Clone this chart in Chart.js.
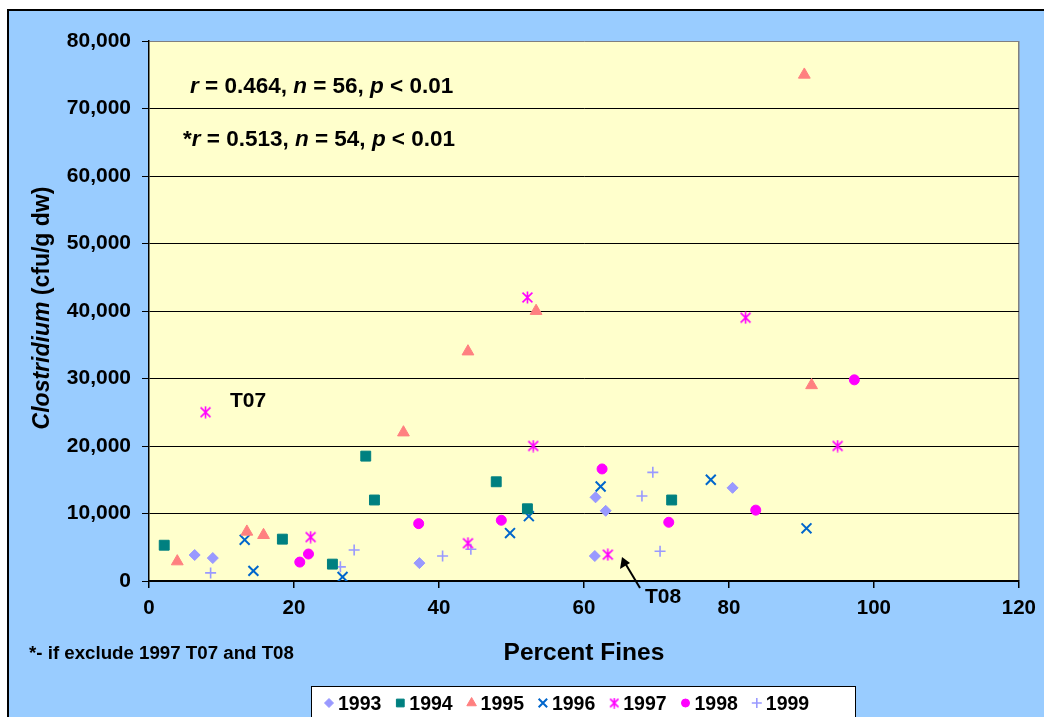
<!DOCTYPE html>
<html>
<head>
<meta charset="utf-8">
<script src="https://cdn.jsdelivr.net/npm/chart.js@4.4.1/dist/chart.umd.min.js"></script>
<style>
  html, body { margin: 0; padding: 0; background: #fff; }
</style>
</head>
<body>
<canvas id="chart" width="1044" height="717"></canvas>
<script>
const years = ['1993', '1994', '1995', '1996', '1997', '1998', '1999'];

// percent fines (x) and Clostridium cfu/g dw (y), one pair of arrays per year
const x1993 = [6.3, 8.8, 37.3, 61.5, 61.6, 63.0, 80.5];
const y1993 = [3850, 3400, 2650, 3700, 12400, 10400, 13800];
const x1994 = [2.1, 18.4, 25.3, 29.9, 31.1, 47.9, 52.2, 72.1];
const y1994 = [5300, 6200, 2500, 18500, 12000, 14700, 10700, 12000];
const x1995 = [3.9, 13.5, 15.8, 35.1, 44.0, 53.4, 90.4, 91.4];
const y1995 = [2900, 7300, 6800, 22000, 34000, 40000, 75000, 29000];
const x1996 = [13.2, 14.4, 26.7, 49.8, 52.4, 62.3, 77.5, 90.7];
const y1996 = [6100, 1500, 600, 7100, 9600, 14000, 15000, 7800];
const x1997 = [7.8, 22.3, 44.0, 52.2, 53.0, 63.3, 82.3, 95.0];
const y1997 = [25000, 6500, 5600, 42000, 20000, 3900, 39000, 20000];
const x1998 = [20.8, 22.0, 37.2, 48.6, 62.5, 71.7, 83.7, 97.3];
const y1998 = [2800, 4000, 8500, 9000, 16600, 8700, 10500, 29800];
const x1999 = [8.5, 26.4, 28.3, 40.5, 44.4, 68.0, 69.5, 70.5];
const y1999 = [1200, 2100, 4600, 3700, 4700, 12600, 16100, 4400];

const xTicks = [0, 20, 40, 60, 80, 100, 120];
const yTicks = [0, 10000, 20000, 30000, 40000, 50000, 60000, 70000, 80000];

const allX = [x1993, x1994, x1995, x1996, x1997, x1998, x1999];
const allY = [y1993, y1994, y1995, y1996, y1997, y1998, y1999];

const FONT = '"Liberation Sans", Arial, sans-serif';

// excel style star: an x with a vertical bar
function makeStar(size, color) {
  const c = document.createElement('canvas');
  c.width = size; c.height = size;
  const g = c.getContext('2d');
  g.strokeStyle = color;
  g.lineWidth = 1.6;
  const m = size / 2, a = size * 0.38;
  g.beginPath();
  g.moveTo(m - a, m - a); g.lineTo(m + a, m + a);
  g.moveTo(m + a, m - a); g.lineTo(m - a, m + a);
  g.moveTo(m, m - a - 1); g.lineTo(m, m + a + 1);
  g.stroke();
  return c;
}
const starImg = makeStar(13, '#FF00FF');
const starLegend = makeStar(11, '#FF00FF');

const markers = [
  { style: 'rectRot', r: 5.5, color: '#9999FF', filled: true, lw: 1 },
  { style: 'rect', r: 7, color: '#008080', filled: true, lw: 1 },
  { style: 'triangle', r: 6.8, color: '#FF8080', filled: true, lw: 1 },
  { style: 'crossRot', r: 7, color: '#0066CC', filled: false, lw: 2 },
  { style: starImg, r: 6, color: '#FF00FF', filled: false, lw: 1 },
  { style: 'circle', r: 5, color: '#FF00FF', filled: true, lw: 1 },
  { style: 'cross', r: 5.5, color: '#9999FF', filled: false, lw: 1.6 }
];
const legendMarkers = [
  { style: 'rectRot', r: 4.5 }, { style: 'rect', r: 5.5 }, { style: 'triangle', r: 5.5 },
  { style: 'crossRot', r: 6 }, { style: starLegend, r: 5 }, { style: 'circle', r: 4 },
  { style: 'cross', r: 5 }
];

const datasets = years.map((yr, k) => ({
  label: yr,
  data: allX[k].map((x, i) => ({ x: x, y: allY[k][i] })),
  pointStyle: markers[k].style,
  pointRadius: markers[k].r,
  backgroundColor: markers[k].filled ? markers[k].color : 'transparent',
  borderColor: markers[k].color,
  borderWidth: markers[k].lw,
  showLine: false
}));

function richText(ctx, parts, x, y, size) {
  let cx = x;
  parts.forEach(p => {
    ctx.font = (p[1] ? 'italic ' : '') + 'bold ' + size + 'px ' + FONT;
    ctx.fillText(p[0], cx, y);
    cx += ctx.measureText(p[0]).width;
  });
}
function richWidth(ctx, parts, size) {
  let w = 0;
  parts.forEach(p => {
    ctx.font = (p[1] ? 'italic ' : '') + 'bold ' + size + 'px ' + FONT;
    w += ctx.measureText(p[0]).width;
  });
  return w;
}

const backdrop = {
  id: 'backdrop',
  beforeDraw(chart) {
    const ctx = chart.ctx, a = chart.chartArea;
    ctx.save();
    ctx.fillStyle = '#fff';
    ctx.fillRect(0, 0, chart.width, chart.height);
    ctx.fillStyle = '#99CCFF';
    ctx.fillRect(8, 10, chart.width - 8, chart.height - 10);
    ctx.strokeStyle = '#000';
    ctx.lineWidth = 2;
    ctx.beginPath();
    ctx.moveTo(8, chart.height); ctx.lineTo(8, 10); ctx.lineTo(chart.width, 10);
    ctx.stroke();
    ctx.fillStyle = '#FFFFCC';
    ctx.fillRect(a.left, a.top, a.right - a.left, a.bottom - a.top);
    ctx.restore();
  },
  afterDraw(chart) {
    const ctx = chart.ctx;
    ctx.save();
    ctx.fillStyle = '#000';
    ctx.textBaseline = 'alphabetic';
    ctx.textAlign = 'left';

    richText(ctx, [['r', 1], [' = 0.464, ', 0], ['n', 1], [' = 56, ', 0], ['p', 1], [' < 0.01', 0]], 190, 93, 22.5);
    richText(ctx, [['*', 0], ['r', 1], [' = 0.513, ', 0], ['n', 1], [' = 54, ', 0], ['p', 1], [' < 0.01', 0]], 183, 146, 22.5);

    richText(ctx, [['T07', 0]], 230, 407, 21);
    richText(ctx, [['T08', 0]], 645, 603, 21);
    richText(ctx, [['*- if exclude 1997 T07 and T08', 0]], 29, 659, 18.7);

    // arrow to T08
    ctx.strokeStyle = '#000';
    ctx.lineWidth = 2;
    ctx.beginPath();
    ctx.moveTo(640, 588); ctx.lineTo(625, 563);
    ctx.stroke();
    ctx.beginPath();
    ctx.moveTo(622, 557); ctx.lineTo(620, 569); ctx.lineTo(630, 563);
    ctx.closePath();
    ctx.fill();

    // y axis title, mixed italic
    const ytitle = [['Clostridium', 1], [' (cfu/g dw)', 0]];
    ctx.translate(41, 308);
    ctx.rotate(-Math.PI / 2);
    const w = richWidth(ctx, ytitle, 23);
    richText(ctx, ytitle, -w / 2, 8, 23);
    ctx.setTransform(1, 0, 0, 1, 0, 0);

    // legend box
    ctx.fillStyle = '#fff';
    ctx.fillRect(311, 686, 544, 40);
    ctx.strokeStyle = '#000';
    ctx.lineWidth = 1;
    ctx.strokeRect(311.5, 686.5, 544, 40);
    const drawPt = Chart.helpers && Chart.helpers.drawPoint;
    years.forEach((yr, k) => {
      const mx = 329 + k * 71.3, my = 703;
      const m = markers[k], lm = legendMarkers[k];
      ctx.fillStyle = m.color;
      ctx.strokeStyle = m.color;
      ctx.lineWidth = m.lw;
      if (drawPt) {
        drawPt(ctx, { pointStyle: lm.style, radius: lm.r, rotation: 0, borderWidth: m.lw }, mx, my);
      }
      ctx.fillStyle = '#000';
      richText(ctx, [[yr, 0]], mx + 9, my + 7, 19.5);
    });
    ctx.restore();
  }
};

new Chart(document.getElementById('chart'), {
  type: 'scatter',
  data: { datasets: datasets },
  plugins: [backdrop],
  options: {
    responsive: false,
    animation: false,
    events: [],
    layout: { padding: { left: 0, top: 41, right: 23, bottom: 0 } },
    plugins: { legend: { display: false }, tooltip: { enabled: false } },
    scales: {
      x: {
        type: 'linear', min: 0, max: 120,
        afterFit(s) { s.height = 136; },
        afterBuildTicks(s) { s.ticks = xTicks.map(v => ({ value: v })); },
        ticks: { color: '#000', padding: 8, font: { family: FONT, size: 20.5, weight: 'bold' } },
        grid: {
          color: c => (c.tick && c.tick.value === 120) ? '#808080' : 'rgba(0,0,0,0)',
          tickColor: '#000', tickLength: 7, lineWidth: 1.5
        },
        border: { color: '#000', width: 1.5 },
        title: {
          display: true, text: 'Percent Fines', color: '#000',
          font: { family: FONT, size: 24.5, weight: 'bold' },
          padding: { top: 0, bottom: 49 }
        }
      },
      y: {
        type: 'linear', min: 0, max: 80000,
        afterFit(s) { s.width = 149; },
        afterBuildTicks(s) { s.ticks = yTicks.map(v => ({ value: v })); },
        ticks: {
          color: '#000', padding: 11,
          font: { family: FONT, size: 21, weight: 'bold' },
          callback: v => v.toLocaleString('en-US')
        },
        grid: {
          color: c => (c.tick && c.tick.value === 80000) ? '#808080' : '#000',
          tickColor: '#000', tickLength: 7, lineWidth: 1
        },
        border: { color: '#000', width: 1.5 }
      }
    }
  }
});
</script>
</body>
</html>
